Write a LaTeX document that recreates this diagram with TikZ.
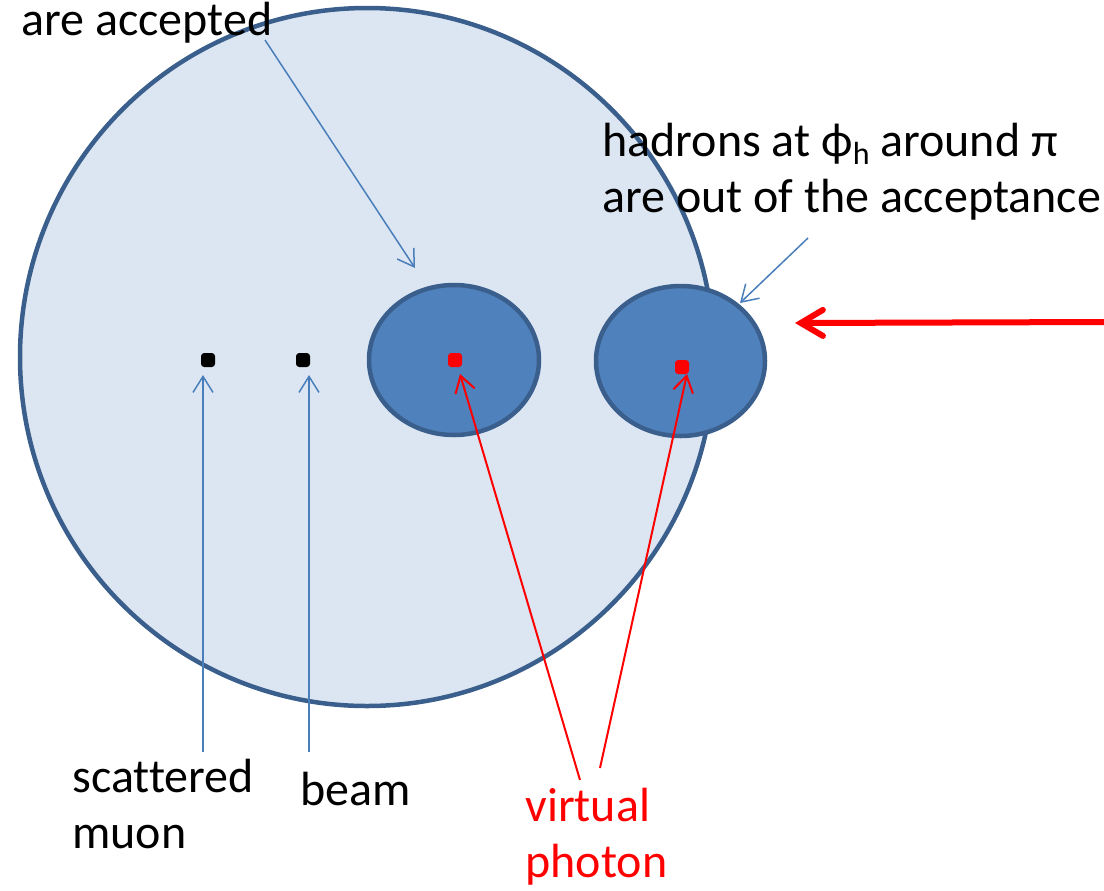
\documentclass[tikz,border=0pt]{standalone}
\usepackage{fontspec}
\setmainfont{Carlito}[Ligatures=NoCommon]
\usetikzlibrary{arrows.meta,shapes.geometric}
\definecolor{ringfill}{HTML}{DCE6F2}
\definecolor{ringline}{HTML}{3A5F8C}
\definecolor{spotfill}{HTML}{4F81BD}
\definecolor{pointer}{HTML}{4A7EBB}
\definecolor{hot}{HTML}{FF0000}
\tikzset{
  lbl/.style={font=\fontsize{24}{28}\selectfont, inner sep=0pt, anchor=base west, align=left},
  region/.style={ellipse, draw=ringline, line width=2.25pt, inner sep=0pt},
  dotmark/.style={rectangle, rounded corners=1.6pt, minimum size=7pt, inner sep=0pt},
  bluearrow/.style={draw=pointer, line width=0.75pt, -{Straight Barb[length=8pt,width=10pt]}},
  redarrow/.style={draw=hot, line width=1pt, -{Straight Barb[length=8pt,width=10pt]}},
}
\begin{document}
\begin{tikzpicture}[x=0.5pt,y=-0.5pt]
\useasboundingbox (0,0) rectangle (1104,890);

% acceptance region and the two hadron cones
\node[region, fill=ringfill, minimum width=347pt, minimum height=349pt] (big) at (367,357) {};
\node[region, fill=spotfill, minimum width=85pt, minimum height=75pt] (inner) at (454,360) {};
\node[region, fill=spotfill, minimum width=84.5pt, minimum height=75pt] (outer) at (680.5,361) {};

% particle positions
\node[dotmark, fill=black] (mu) at (208,360) {};
\node[dotmark, fill=black] (bm) at (303,360) {};
\node[dotmark, fill=hot] (g1) at (455,360) {};
\node[dotmark, fill=hot] (g2) at (682,367) {};

% labels (base anchor sits on the last line)
\node[lbl] (acc) at (21,35) {are accepted};
\node[lbl] (out) at (602,212) {hadrons at ϕ\raisebox{-0.35ex}{\fontsize{16}{16}\selectfont h} around π\\are out of the acceptance};
\node[lbl] (smu) at (72,848) {scattered\\muon};
\node[lbl] (bml) at (300,805) {beam};
\node[lbl, text=hot] (vph) at (525,877) {virtual\\photon};

% pointer end points
\coordinate (accS) at (265,40);
\coordinate (accE) at (415,268);
\coordinate (outS) at (808,238);
\coordinate (outE) at (740,303);
\coordinate (smuS) at (203,752);
\coordinate (smuE) at (203,375);
\coordinate (bmS) at (309,752);
\coordinate (bmE) at (309,375);
\coordinate (v1S) at (580,780);
\coordinate (v1E) at (460,374);
\coordinate (v2S) at (600,768);
\coordinate (v2E) at (687,374);
\coordinate (beamS) at (1104,322);
\coordinate (beamE) at (795,323);

\draw[bluearrow] (accS) -- (accE);
\draw[bluearrow] (outS) -- (outE);
\draw[bluearrow] (smuS) -- (smuE);
\draw[bluearrow] (bmS) -- (bmE);
\draw[redarrow] (v1S) -- (v1E);
\draw[redarrow] (v2S) -- (v2E);
\draw[draw=hot, line width=3pt, line cap=round, -{Straight Barb[length=11pt,width=13pt,line cap=round]}] (beamS) -- (beamE);
\end{tikzpicture}
\end{document}
